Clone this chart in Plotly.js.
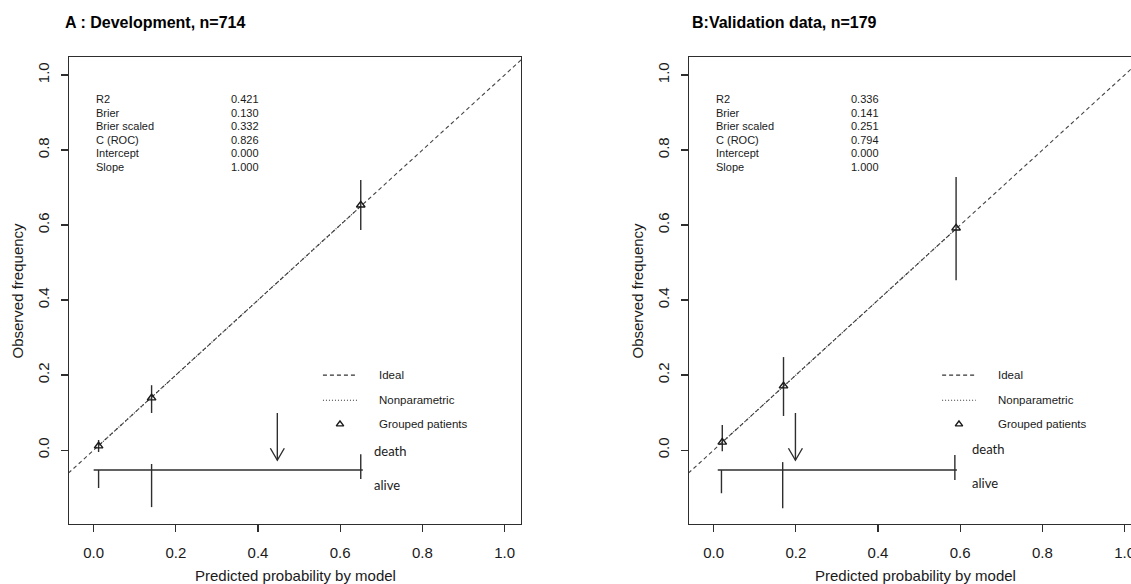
<!DOCTYPE html>
<html>
<head>
<meta charset="utf-8">
<script src="https://cdn.plot.ly/plotly-3.0.1.min.js"></script>
<style>
html, body { margin: 0; padding: 0; overflow: hidden; background: #fff; }
#chart { width: 1150px; height: 584px; }
</style>
</head>
<body>
<div id="chart"></div>
<script>
// ---------- data ----------
const tickVals = [0, 0.2, 0.4, 0.6, 0.8, 1.0];
const tickText = ["0.0", "0.2", "0.4", "0.6", "0.8", "1.0"];

const statLabels = ["R2", "Brier", "Brier scaled", "C (ROC)", "Intercept", "Slope"];
const statsA = ["0.421", "0.130", "0.332", "0.826", "0.000", "1.000"];
const statsB = ["0.336", "0.141", "0.251", "0.794", "0.000", "1.000"];

// Panel A: development
const groupA_x = [0.012, 0.141, 0.650];
const groupA_y = [0.011, 0.139, 0.653];
const groupA_lo = [-0.005, 0.099, 0.587];
const groupA_hi = [0.027, 0.173, 0.720];
const npA_x = [0.012, 0.650];
const npA_y = [0.012, 0.650];
const spikeA_x = [0.012, 0.141, 0.650];
const spikeA_death = [-0.053, -0.037, -0.011];
const spikeA_alive = [-0.101, -0.152, -0.077];
const baseA_x = [0.0, 0.655];
const baseA_y = -0.053;
const arrowA_x = 0.447;
const arrowA_y = [0.099, -0.027];

// Panel B: validation
const groupB_x = [0.021, 0.170, 0.590];
const groupB_y = [0.021, 0.171, 0.592];
const groupB_lo = [-0.003, 0.091, 0.453];
const groupB_hi = [0.067, 0.248, 0.728];
const npB_x = [0.021, 0.590];
const npB_y = [0.021, 0.590];
const spikeB_x = [0.019, 0.168, 0.587];
const spikeB_death = [-0.053, -0.032, -0.013];
const spikeB_alive = [-0.115, -0.155, -0.080];
const baseB_x = [0.010, 0.592];
const baseB_y = -0.053;
const arrowB_x = 0.199;
const arrowB_y = [0.099, -0.027];

// ---------- styling / layout constants ----------
const W = 1150, H = 584;
const LINE = "#2e2e2e";
const TXT = "#1a1a1a";
const FONT = "Liberation Sans, Arial, sans-serif";
const xRange = [-0.06, 1.04];
const yRange = [-0.197, 1.048];
const boxA = [69, 521], boxB = [689, 1141], boxY = [57, 524];

function px2fx(p) { return p / W; }
function px2fy(p) { return 1 - p / H; }

const traces = [];

function addPanel(xa, ya, gx, gy, glo, ghi, npx, npy, sx, sd, sa, bx, by, ax, ay, legendX) {
  // ideal line
  traces.push({x: [-0.2, 1.2], y: [-0.2, 1.2], xaxis: xa, yaxis: ya, mode: "lines",
    line: {color: "#444", width: 1.1, dash: "4px,3px"}, hoverinfo: "skip", showlegend: false});
  // nonparametric
  traces.push({x: npx, y: npy, xaxis: xa, yaxis: ya, mode: "lines",
    line: {color: "#333", width: 1.1, dash: "1px,2px"}, hoverinfo: "skip", showlegend: false});
  // grouped patients with CI
  traces.push({x: gx, y: gy, xaxis: xa, yaxis: ya, mode: "markers",
    marker: {symbol: "triangle-up-open", size: 7.5, color: "#1a1a1a", line: {width: 1.4, color: "#1a1a1a"}},
    error_y: {type: "data", symmetric: false,
      array: ghi.map((h, i) => h - gy[i]), arrayminus: glo.map((l, i) => gy[i] - l),
      width: 0, thickness: 1.4, color: LINE},
    showlegend: false});
  // spike histogram
  const spx = [], spy = [];
  sx.forEach((v, i) => { spx.push(v, v, null); spy.push(sd[i], sa[i], null); });
  traces.push({x: spx, y: spy, xaxis: xa, yaxis: ya, mode: "lines",
    line: {color: LINE, width: 1.4}, hoverinfo: "skip", showlegend: false});
  traces.push({x: bx, y: [by, by], xaxis: xa, yaxis: ya, mode: "lines",
    line: {color: LINE, width: 1.4}, hoverinfo: "skip", showlegend: false});
  // arrow
  const hdx = 0.017, hdy = 0.032;
  traces.push({x: [ax, ax, null, ax - hdx, ax, ax + hdx],
    y: [ay[0], ay[1], null, ay[1] + hdy, ay[1], ay[1] + hdy],
    xaxis: xa, yaxis: ya, mode: "lines", line: {color: LINE, width: 1.4},
    hoverinfo: "skip", showlegend: false});
  // legend samples
  const lx = legendX;
  traces.push({x: [lx[0], lx[1]], y: [0.200, 0.200], xaxis: xa, yaxis: ya, mode: "lines",
    line: {color: "#333", width: 1.1, dash: "4px,3px"}, hoverinfo: "skip", showlegend: false});
  traces.push({x: [lx[0], lx[1]], y: [0.133, 0.133], xaxis: xa, yaxis: ya, mode: "lines",
    line: {color: "#333", width: 1.1, dash: "1px,2px"}, hoverinfo: "skip", showlegend: false});
  traces.push({x: [(lx[0] + lx[1]) / 2], y: [0.069], xaxis: xa, yaxis: ya, mode: "markers",
    marker: {symbol: "triangle-up-open", size: 6.5, color: "#1a1a1a", line: {width: 1.4, color: "#1a1a1a"}},
    hoverinfo: "skip", showlegend: false});
}

addPanel("x", "y", groupA_x, groupA_y, groupA_lo, groupA_hi, npA_x, npA_y,
  spikeA_x, spikeA_death, spikeA_alive, baseA_x, baseA_y, arrowA_x, arrowA_y, [0.558, 0.641]);
addPanel("x2", "y2", groupB_x, groupB_y, groupB_lo, groupB_hi, npB_x, npB_y,
  spikeB_x, spikeB_death, spikeB_alive, baseB_x, baseB_y, arrowB_x, arrowB_y, [0.556, 0.638]);

const annotations = [];
function panelText(xr, yr, stats, legendTextX, deathX, deathY, aliveY, title, titlePx, box) {
  statLabels.forEach((lab, i) => {
    const y = 0.936 - i * 0.0362;
    annotations.push({xref: xr, yref: yr, x: 0.0, y: y, text: lab, showarrow: false,
      xanchor: "left", yanchor: "middle", font: {family: FONT, size: 11, color: TXT}});
    annotations.push({xref: xr, yref: yr, x: 0.33, y: y, text: stats[i], showarrow: false,
      xanchor: "left", yanchor: "middle", font: {family: FONT, size: 11, color: TXT}});
  });
  [["Ideal", 0.200], ["Nonparametric", 0.133], ["Grouped patients", 0.069]].forEach(([t, y]) => {
    annotations.push({xref: xr, yref: yr, x: legendTextX, y: y, text: t, showarrow: false,
      xanchor: "left", yanchor: "middle", font: {family: FONT, size: 11.5, color: TXT}});
  });
  annotations.push({xref: xr, yref: yr, x: deathX, y: deathY, text: "death", showarrow: false,
    xanchor: "left", yanchor: "middle", font: {family: "Lato, Carlito, sans-serif", size: 13, color: TXT}});
  annotations.push({xref: xr, yref: yr, x: deathX, y: aliveY, text: "alive", showarrow: false,
    xanchor: "left", yanchor: "middle", font: {family: "Lato, Carlito, sans-serif", size: 13, color: TXT}});
  // panel title
  annotations.push({xref: "paper", yref: "paper", x: px2fx(titlePx), y: px2fy(23), text: "<b>" + title + "</b>",
    showarrow: false, xanchor: "left", yanchor: "middle", font: {family: FONT, size: 16, color: "#000"}});
  // axis titles
  annotations.push({xref: "paper", yref: "paper", x: px2fx((box[0] + box[1]) / 2), y: px2fy(575),
    text: "Predicted probability by model", showarrow: false, xanchor: "center", yanchor: "middle",
    font: {family: FONT, size: 15, color: TXT}});
  annotations.push({xref: "paper", yref: "paper", x: px2fx(box[0] - 52), y: px2fy((boxY[0] + boxY[1]) / 2),
    text: "Observed frequency", showarrow: false, textangle: -90, xanchor: "center", yanchor: "middle",
    font: {family: FONT, size: 15, color: TXT}});
}
panelText("x", "y", statsA, 0.689, 0.677, -0.003, -0.093, "A : Development, n=714", 63, boxA);
panelText("x2", "y2", statsB, 0.687, 0.624, 0.003, -0.088, "B:Validation data, n=179", 690, boxB);

function xAxis(box, anchor) {
  return {domain: [px2fx(box[0]), px2fx(box[1])], range: xRange, anchor: anchor,
    showgrid: false, zeroline: false, showline: true, mirror: true, linecolor: LINE, linewidth: 1.3,
    ticks: "outside", ticklen: 7, tickwidth: 1.2, tickcolor: LINE, tickvals: tickVals, ticktext: tickText,
    ticklabelstandoff: 8, tickfont: {family: FONT, size: 15, color: TXT}, fixedrange: true};
}
function yAxis(anchor) {
  return {domain: [px2fy(boxY[1]), px2fy(boxY[0])], range: yRange, anchor: anchor,
    showgrid: false, zeroline: false, showline: true, mirror: true, linecolor: LINE, linewidth: 1.3,
    ticks: "outside", ticklen: 7, tickwidth: 1.2, tickcolor: LINE, tickvals: tickVals, ticktext: tickText,
    tickangle: -90, ticklabelstandoff: 6, tickfont: {family: FONT, size: 15, color: TXT}, fixedrange: true};
}

const layout = {
  width: W, height: H,
  margin: {l: 0, r: 0, t: 0, b: 0, pad: 0},
  paper_bgcolor: "#fff", plot_bgcolor: "#fff",
  showlegend: false,
  xaxis: xAxis(boxA, "y"), yaxis: yAxis("x"),
  xaxis2: xAxis(boxB, "y2"), yaxis2: yAxis("x2"),
  annotations: annotations
};

Plotly.newPlot("chart", traces, layout, {staticPlot: true, displayModeBar: false});
</script>
</body>
</html>
